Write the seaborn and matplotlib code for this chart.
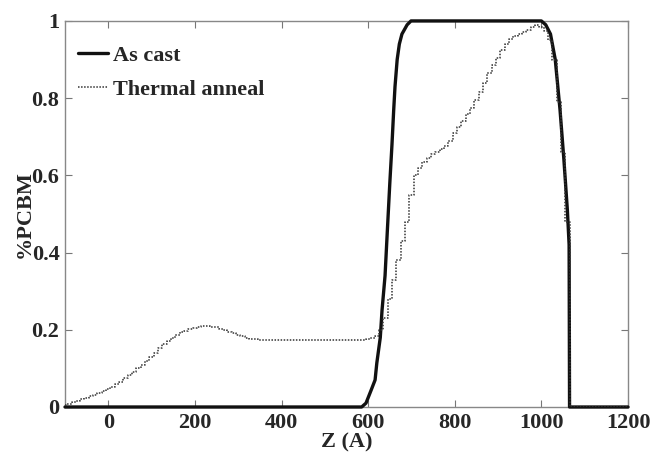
import numpy as np
import pandas as pd
import seaborn as sns
import matplotlib.pyplot as plt

# As cast: breakpoints (Z in Angstrom, fraction PCBM)
as_cast_z = [-100, 585, 595, 607, 616, 620, 628, 632, 639, 644, 650, 655, 659,
             662, 667, 672, 678, 690, 699, 1000, 1010, 1021, 1032, 1043, 1052,
             1060, 1064, 1065, 1200]
as_cast = [0.0, 0.0, 0.01, 0.044, 0.07, 0.114, 0.18, 0.25, 0.34, 0.45, 0.58, 0.68,
           0.77, 0.83, 0.90, 0.94, 0.966, 0.99, 1.0, 1.0, 0.99, 0.966, 0.90, 0.77,
           0.64, 0.51, 0.42, 0.0, 0.0]

# Thermal anneal: one value every 10 A
anneal_z = np.arange(-100, 1201, 10)
thermal_anneal = (
    [0.005, 0.008, 0.012, 0.016, 0.020, 0.024, 0.028, 0.032, 0.037, 0.041,  # -100 .. -10
     0.046, 0.052, 0.059, 0.066, 0.074, 0.082, 0.091, 0.100, 0.110, 0.120,  # 0 .. 90
     0.130, 0.141, 0.152, 0.162, 0.172, 0.180, 0.187, 0.193, 0.198, 0.202,  # 100 .. 190
     0.205, 0.208, 0.209, 0.209, 0.208, 0.206, 0.203, 0.199, 0.195, 0.191,  # 200 .. 290
     0.187, 0.183, 0.180, 0.177, 0.175, 0.174]                              # 300 .. 350
    + [0.173] * 24                                                          # 360 .. 590
    + [0.175, 0.178, 0.185, 0.200, 0.230, 0.280, 0.330, 0.380, 0.430, 0.480,  # 600 .. 690
       0.550, 0.600, 0.620, 0.635, 0.645, 0.655, 0.660, 0.668, 0.675, 0.690,  # 700 .. 790
       0.710, 0.725, 0.740, 0.760, 0.775, 0.795, 0.815, 0.840, 0.865, 0.885,  # 800 .. 890
       0.905, 0.925, 0.940, 0.952, 0.960, 0.966, 0.972, 0.977, 0.983, 0.990,  # 900 .. 990
       0.985, 0.975, 0.950, 0.900, 0.790, 0.660, 0.480]                       # 1000 .. 1060
    + [0.0] * 14                                                            # 1070 .. 1200
)

x_ticks = [0, 200, 400, 600, 800, 1000, 1200]
y_ticks = [0, 0.2, 0.4, 0.6, 0.8, 1.0]
y_tick_labels = ["0", "0.2", "0.4", "0.6", "0.8", "1"]

cast_df = pd.DataFrame({"z": as_cast_z, "pcbm": as_cast})
anneal_df = pd.DataFrame({"z": anneal_z, "pcbm": thermal_anneal})

sns.set_style("ticks")
plt.rcParams["font.family"] = ["Liberation Serif", "DejaVu Serif"]
plt.rcParams["font.weight"] = "bold"

fig = plt.figure(figsize=(6.52, 4.55), dpi=100)
ax = fig.add_axes([0.0997, 0.1055, 0.8635, 0.8485])

sns.lineplot(data=cast_df, x="z", y="pcbm", ax=ax, color="#111111", lw=2.4,
             label="As cast", clip_on=False, zorder=3, sort=False)
sns.lineplot(data=anneal_df, x="z", y="pcbm", ax=ax, color="#333333", lw=1.1,
             linestyle=(0, (1, 1)), drawstyle="steps-mid", label="Thermal anneal",
             zorder=4)

ax.set_xlim(-100, 1200)
ax.set_ylim(0, 1)
ax.set_xticks(x_ticks)
ax.set_yticks(y_ticks)
ax.set_yticklabels(y_tick_labels)
ax.tick_params(direction="in", length=5, width=0.8, color="#777777",
               top=True, right=True, labelsize=16, pad=4)
for lab in ax.get_xticklabels() + ax.get_yticklabels():
    lab.set_fontweight("bold")
for s in ax.spines.values():
    s.set_color("#888888")
    s.set_linewidth(1.0)

ax.set_xlabel("Z (A)", fontsize=16, fontweight="bold", labelpad=0)
ax.set_ylabel("%PCBM", fontsize=16, fontweight="bold", labelpad=-2)

ax.legend(loc="upper left", bbox_to_anchor=(-0.012, 0.988), frameon=False,
          handlelength=1.35, handletextpad=0.2, labelspacing=0.6,
          prop={"weight": "bold", "size": 16})

fig.savefig("out.png", dpi=100)
